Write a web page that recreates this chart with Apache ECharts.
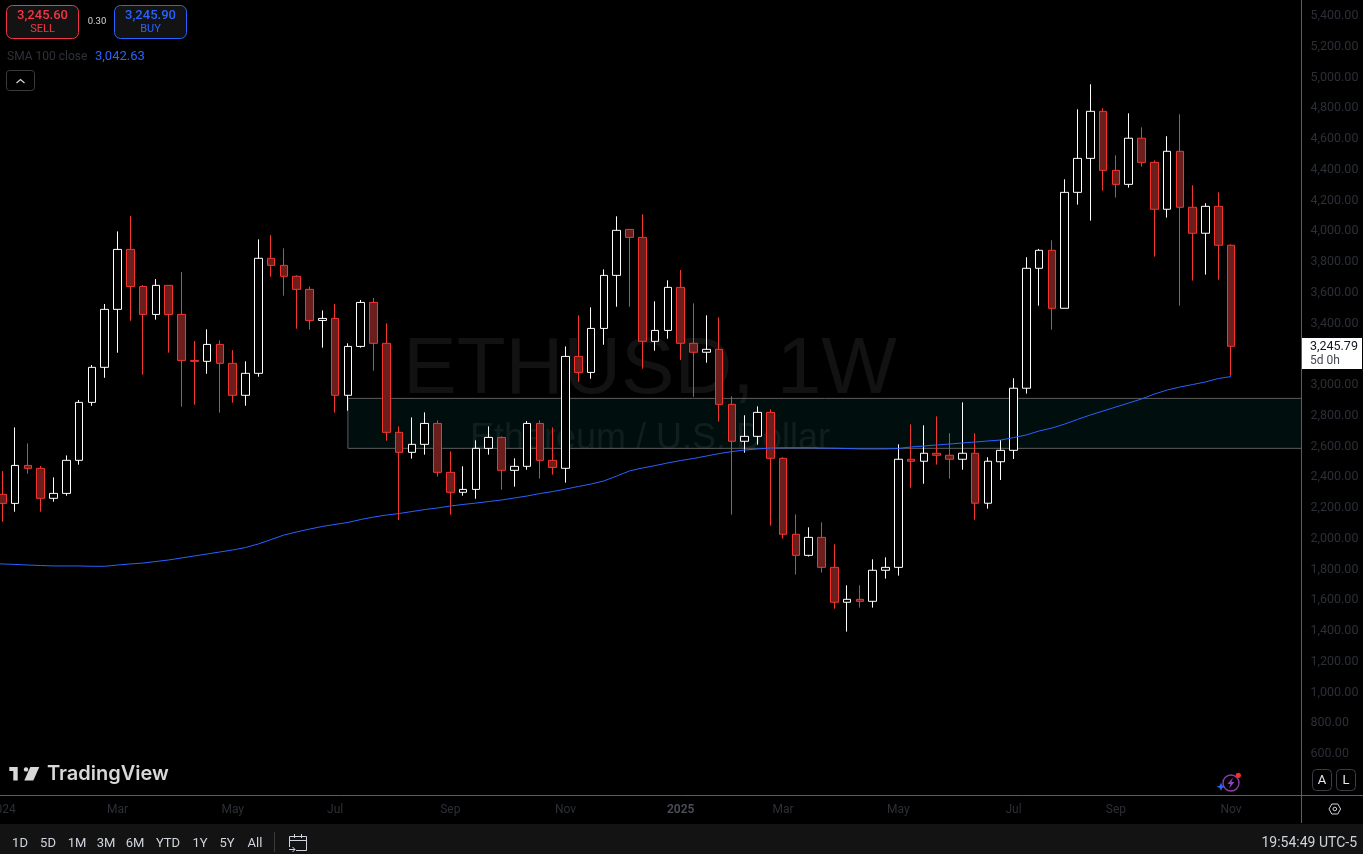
<!DOCTYPE html>
<html>
<head>
<meta charset="utf-8">
<title>ETHUSD 1W</title>
<script src="https://cdn.jsdelivr.net/npm/echarts@6/dist/echarts.min.js"></script>
<style>
  html, body { margin: 0; padding: 0; background: #000; }
  #chart { width: 1363px; height: 854px; }
</style>
</head>
<body>
<div id="chart"></div>
<script>
var weeks = [
  '2024-01-01','2024-01-08','2024-01-15','2024-01-22','2024-01-29','2024-02-05','2024-02-12','2024-02-19','2024-02-26','2024-03-04',
  '2024-03-11','2024-03-18','2024-03-25','2024-04-01','2024-04-08','2024-04-15','2024-04-22','2024-04-29','2024-05-06','2024-05-13',
  '2024-05-20','2024-05-27','2024-06-03','2024-06-10','2024-06-17','2024-06-24','2024-07-01','2024-07-08','2024-07-15','2024-07-22',
  '2024-07-29','2024-08-05','2024-08-12','2024-08-19','2024-08-26','2024-09-02','2024-09-09','2024-09-16','2024-09-23','2024-09-30',
  '2024-10-07','2024-10-14','2024-10-21','2024-10-28','2024-11-04','2024-11-11','2024-11-18','2024-11-25','2024-12-02','2024-12-09',
  '2024-12-16','2024-12-23','2024-12-30','2025-01-06','2025-01-13','2025-01-20','2025-01-27','2025-02-03','2025-02-10','2025-02-17',
  '2025-02-24','2025-03-03','2025-03-10','2025-03-17','2025-03-24','2025-03-31','2025-04-07','2025-04-14','2025-04-21','2025-04-28',
  '2025-05-05','2025-05-12','2025-05-19','2025-05-26','2025-06-02','2025-06-09','2025-06-16','2025-06-23','2025-06-30','2025-07-07',
  '2025-07-14','2025-07-21','2025-07-28','2025-08-04','2025-08-11','2025-08-18','2025-08-25','2025-09-01','2025-09-08','2025-09-15',
  '2025-09-22','2025-09-29','2025-10-06','2025-10-13','2025-10-20','2025-10-27','2025-11-03'
];
// week just off the left edge, only the SMA line reaches into the picture from it
var earlierWeek = '2023-12-25';
var earlierSma = 1826;
// empty weeks to the right of the last candle
var futureWeeks = ['2025-11-10','2025-11-17','2025-11-24','2025-12-01','2025-12-08'];

var opens = [
  2276,2217,2464,2445,2250,2282,2497,2874,3102,3479,
  3869,3628,3446,3635,3446,3147,3141,3251,3128,2920,
  3063,3811,3765,3694,3609,3407,3420,2920,3238,3524,
  3258,2679,2549,2601,2737,2419,2289,2308,2575,2646,
  2432,2458,2737,2497,2445,3173,3069,3355,3700,3999,
  3947,3271,3342,3622,3258,3200,3219,2861,2621,2653,
  2809,2510,2016,1879,1996,1801,1574,1593,1580,1782,
  1801,2504,2491,2543,2530,2504,2543,2218,2488,2562,
  2966,3746,3863,3486,4240,4461,4767,4383,4292,4592,
  4435,4130,4507,4143,3974,4149,3896
];
var closes = [
  2217,2464,2445,2250,2282,2497,2874,3102,3479,3869,
  3628,3446,3635,3446,3147,3141,3251,3128,2920,3063,
  3811,3765,3694,3609,3407,3420,2920,3238,3524,3258,
  2679,2549,2601,2737,2419,2289,2308,2575,2646,2432,
  2458,2737,2497,2451,3173,3069,3355,3700,3993,3947,
  3271,3342,3622,3258,3200,3219,2861,2621,2653,2809,
  2510,2016,1879,1996,1801,1574,1593,1580,1782,1801,
  2504,2491,2543,2530,2504,2543,2218,2491,2562,2966,
  3746,3863,3486,4240,4461,4767,4383,4292,4592,4435,
  4130,4507,4143,3974,4149,3896,3239
];
var lows = [
  2098,2163,2410,2163,2228,2267,2469,2852,3034,3197,
  3405,3054,3412,3197,2846,2859,3060,2807,2872,2852,
  3041,3691,3568,3353,3347,3230,2807,2820,3230,3080,
  2625,2109,2508,2534,2391,2143,2267,2247,2534,2306,
  2326,2436,2378,2404,2352,3008,3028,3249,3496,3496,
  3093,3210,3288,3150,2909,3132,2749,2144,2547,2599,
  2072,1988,1754,1871,1767,1532,1383,1539,1539,1728,
  1747,2319,2345,2469,2378,2436,2111,2183,2369,2506,
  2931,3503,3347,3486,4160,4056,4251,4206,4271,4407,
  3822,4076,3503,3666,3705,3672,3048
];
var highs = [
  2427,2711,2607,2460,2386,2529,2889,3117,3514,3986,
  4086,3637,3676,3635,3722,3273,3349,3277,3214,3141,
  3934,3962,3876,3700,3628,3472,3514,3258,3540,3553,
  3388,2718,2776,2809,2757,2555,2458,2627,2718,2653,
  2510,2753,2757,2711,3238,3440,3492,3739,4084,3999,
  4097,3531,3668,3735,3518,3440,3427,2913,2790,2848,
  2829,2517,2146,2061,2094,1951,1684,1684,1853,1866,
  2601,2731,2725,2783,2673,2874,2673,2517,2629,3031,
  3818,3872,3928,4325,4780,4943,4787,4481,4754,4663,
  4448,4605,4748,4286,4169,4240,3902
];
var sma100 = [
  1823,1820,1816,1813,1810,1810,1810,1808,1808,1816,
  1823,1829,1839,1849,1862,1875,1888,1901,1914,1930,
  1953,1982,2011,2031,2050,2067,2080,2093,2112,2128,
  2141,2151,2164,2177,2187,2200,2210,2219,2229,2239,
  2252,2265,2281,2294,2310,2327,2343,2363,2395,2428,
  2447,2463,2480,2496,2509,2525,2541,2554,2564,2571,
  2577,2579,2579,2579,2577,2576,2574,2571,2571,2571,
  2574,2584,2590,2597,2603,2610,2616,2623,2629,2645,
  2662,2688,2707,2733,2763,2792,2818,2844,2870,2896,
  2928,2954,2974,2990,3007,3029,3042
];
var priceTicks = [600,800,1000,1200,1400,1600,1800,2000,2200,2400,2600,2800,3000,3200,3400,3600,3800,4000,4200,4400,4600,4800,5000,5200,5400];
var timeTicks = {
  '2024-01-01':'2024','2024-03-04':'Mar','2024-05-06':'May','2024-07-01':'Jul','2024-09-02':'Sep','2024-11-04':'Nov',
  '2025-01-06':'2025','2025-03-03':'Mar','2025-05-05':'May','2025-07-07':'Jul','2025-09-01':'Sep','2025-11-03':'Nov'
};
var rangeButtons = ['1D','5D','1M','3M','6M','YTD','1Y','5Y','All'];
var zoneTop = 2900;
var zoneBottom = 2575;
var zoneStart = '2024-07-08';

var UI_FONT = 'Roboto, "Noto Sans", sans-serif';
var AXIS_TEXT = '#2c2f36';
var BAR_TEXT = '#d1d4dc';
var RED = '#f5362e';
var BLUE = '#2962ff';

var candleData = [['-', '-', '-', '-']].concat(opens.map(function (o, i) {
  return [o, closes[i], lows[i], highs[i]];
}));

function label(x, y, str, color, size, align, weight, family) {
  return {
    type: 'text', x: x, y: y, z: 100,
    style: {
      text: str, fill: color, fontSize: size, align: align || 'left', verticalAlign: 'middle',
      fontWeight: weight || 'normal', fontFamily: family || UI_FONT
    }
  };
}
function box(x, y, w, h, fill, stroke, r) {
  return {
    type: 'rect', z: 99, shape: { x: x, y: y, width: w, height: h, r: r || 0 },
    style: { fill: fill, stroke: stroke || null, lineWidth: 1 }
  };
}
function poly(points, stroke, width) {
  return {
    type: 'polyline', z: 100, shape: { points: points },
    style: { stroke: stroke, lineWidth: width || 1, fill: null }
  };
}
function solid(points, fill) {
  return { type: 'polygon', z: 100, shape: { points: points }, style: { fill: fill } };
}
function dot(cx, cy, r, fill, stroke, width) {
  return {
    type: 'circle', z: 101, shape: { cx: cx, cy: cy, r: r },
    style: { fill: fill, stroke: stroke || null, lineWidth: width || 1 }
  };
}

var rangeX = [20, 48, 77, 106, 135, 168, 200, 227, 255];

var graphics = [
  // watermark
  { type: 'text', x: 650, y: 371, z: 0, style: { text: 'ETHUSD, 1W', fill: 'rgba(255,255,255,0.07)', fontSize: 80, align: 'center', verticalAlign: 'middle', fontFamily: '"Liberation Sans", Arial, sans-serif' } },
  { type: 'text', x: 650, y: 439, z: 0, style: { text: 'Ethereum / U.S. Dollar', fill: 'rgba(255,255,255,0.07)', fontSize: 36, align: 'center', verticalAlign: 'middle', fontFamily: '"Liberation Sans", Arial, sans-serif' } },

  // sell / buy
  box(6.5, 5.5, 72, 33, '#131313', '#f23645', 6),
  label(42.5, 15.5, '3,245.60', '#f23645', 13, 'center', 500),
  label(42.5, 29.5, 'SELL', '#f23645', 11, 'center'),
  label(97, 21.5, '0.30', '#d1d4dc', 9.5, 'center'),
  box(114.5, 5.5, 72, 33, '#131313', BLUE, 6),
  label(150.5, 15.5, '3,245.90', BLUE, 13, 'center', 500),
  label(150.5, 29.5, 'BUY', BLUE, 11, 'center'),
  label(7, 57, 'SMA 100 close', '#2f3239', 12),
  label(95, 57, '3,042.63', BLUE, 13),
  box(6.5, 70.5, 28, 20, '#000', '#3a3a3a', 3),
  poly([[16.5, 83], [20.5, 79.5], [24.5, 83]], '#d1d4dc', 1.2),

  // price tag
  box(1302, 338, 60, 31, '#fff'),
  label(1310, 347, '3,245.79', '#131722', 12.5),
  label(1310, 361, '5d 0h', '#434651', 12),

  // axis frame
  poly([[0, 795.5], [1363, 795.5]], '#5d5d5d'),
  poly([[1301.5, 0], [1301.5, 823]], '#5d5d5d'),

  // bottom bar
  box(0, 824, 1363, 30, '#131313'),
  poly([[274.5, 832], [274.5, 852]], '#3a3a3a'),
  label(1357, 843, '19:54:49 UTC-5', BAR_TEXT, 14, 'right'),
  poly([[289.5, 847], [289.5, 836.5], [306.5, 836.5], [306.5, 850.5], [296, 850.5]], '#d1d4dc'),
  poly([[289.5, 840.5], [306.5, 840.5]], '#d1d4dc'),
  poly([[294.5, 834], [294.5, 838]], '#d1d4dc'),
  poly([[301.5, 834], [301.5, 838]], '#d1d4dc'),
  poly([[289, 849.5], [295, 849.5]], '#d1d4dc'),
  poly([[292.5, 847], [295, 849.5], [292.5, 852]], '#d1d4dc'),

  // auto / log
  box(1312.5, 769.5, 19, 21, '#000', '#3a3d45', 4),
  box(1336.5, 769.5, 19, 21, '#000', '#3a3d45', 4),
  label(1322, 780.5, 'A', '#e8e8f0', 13, 'center'),
  label(1346, 780.5, 'L', '#e8e8f0', 13, 'center'),
  {
    type: 'polygon', z: 100, shape: { points: [[1329, 809], [1331.8, 804], [1337.8, 804], [1340.6, 809], [1337.8, 814], [1331.8, 814]] },
    style: { fill: null, stroke: '#d1d4dc', lineWidth: 1 }
  },
  dot(1334.8, 809, 1.8, null, '#d1d4dc'),

  // tradingview logo
  solid([[9.3, 767], [17.7, 767], [17.7, 780.6], [13.3, 780.6], [13.3, 771], [9.3, 771]], '#d8d8d8'),
  dot(26, 769.4, 2.2, '#d8d8d8'),
  solid([[30.3, 767], [39.3, 767], [33.3, 780.6], [24.3, 780.6]], '#d8d8d8'),
  label(47, 774, 'TradingView', '#d8d8d8', 20, 'left', 600, 'Inter, Roboto, sans-serif'),

  // lightning badge
  dot(1231, 783, 8, null, '#8e3bb0', 1.4),
  solid([[1233, 777.5], [1227.5, 784], [1230.5, 784], [1229, 788.5], [1234.5, 782], [1231.5, 782]], '#9c3bc4'),
  dot(1238.3, 775.3, 2.6, '#f23030'),
  solid([[1221, 782.5], [1222.2, 785.6], [1225.3, 786.8], [1222.2, 788], [1221, 791], [1219.8, 788], [1216.7, 786.8], [1219.8, 785.6]], '#2f62f5')
];
rangeButtons.forEach(function (t, i) {
  graphics.push(label(rangeX[i], 843.5, t, BAR_TEXT, 13, 'center'));
});

var option = {
  animation: false,
  backgroundColor: '#000',
  textStyle: { fontFamily: UI_FONT },
  // top/left are off canvas so the 200 step ticks and the weeks land where the chart has them
  grid: { left: -16.9, top: -16.75, width: 1318.4, height: 830.25, outerBoundsMode: 'none', containLabel: false },
  xAxis: {
    type: 'category',
    data: [earlierWeek].concat(weeks, futureWeeks),
    boundaryGap: true,
    axisLine: { show: false },
    axisTick: { show: false },
    splitLine: { show: false },
    axisLabel: {
      margin: -10,
      color: AXIS_TEXT,
      fontSize: 12,
      showMinLabel: true,
      interval: function (i, v) { return !!timeTicks[v]; },
      formatter: function (v) {
        var t = timeTicks[v] || '';
        return t === '2025' ? '{yr|' + t + '}' : t;
      },
      rich: { yr: { color: '#4c4f57', fontSize: 12, fontWeight: 600 } }
    }
  },
  yAxis: {
    type: 'value',
    position: 'right',
    min: 200,
    max: 5600,
    interval: 200,
    scale: true,
    axisLine: { show: false },
    axisTick: { show: false },
    splitLine: { show: false },
    axisLabel: {
      margin: 9,
      color: AXIS_TEXT,
      fontSize: 12.5,
      formatter: function (v) {
        if (priceTicks.indexOf(v) < 0) return '';
        return '{p|' + v.toLocaleString('en-US', { minimumFractionDigits: 2, maximumFractionDigits: 2 }) + '}';
      },
      // nudges the text down to where the chart prints it
      rich: { p: { color: AXIS_TEXT, fontSize: 12.5, padding: [4, 0, 0, 0] } }
    }
  },
  series: [
    {
      name: 'ETHUSD',
      type: 'candlestick',
      data: candleData,
      barWidth: 8,
      itemStyle: {
        color: '#000',
        color0: '#6b1e1b',
        borderColor: '#ffffff',
        borderColor0: RED,
        borderWidth: 1
      },
      markArea: {
        silent: true,
        itemStyle: { color: 'rgba(0,150,136,0.1)', borderColor: '#5d5d5d', borderWidth: 1 },
        data: [[{ xAxis: zoneStart, yAxis: zoneTop }, { yAxis: zoneBottom }]]
      }
    },
    {
      name: 'SMA 100',
      type: 'line',
      data: [earlierSma].concat(sma100),
      z: 5,
      showSymbol: false,
      smooth: false,
      lineStyle: { color: BLUE, width: 1 }
    }
  ],
  graphic: { elements: graphics }
};

var chart = echarts.init(document.getElementById('chart'), null, { renderer: 'canvas' });
chart.setOption(option);
</script>
</body>
</html>
